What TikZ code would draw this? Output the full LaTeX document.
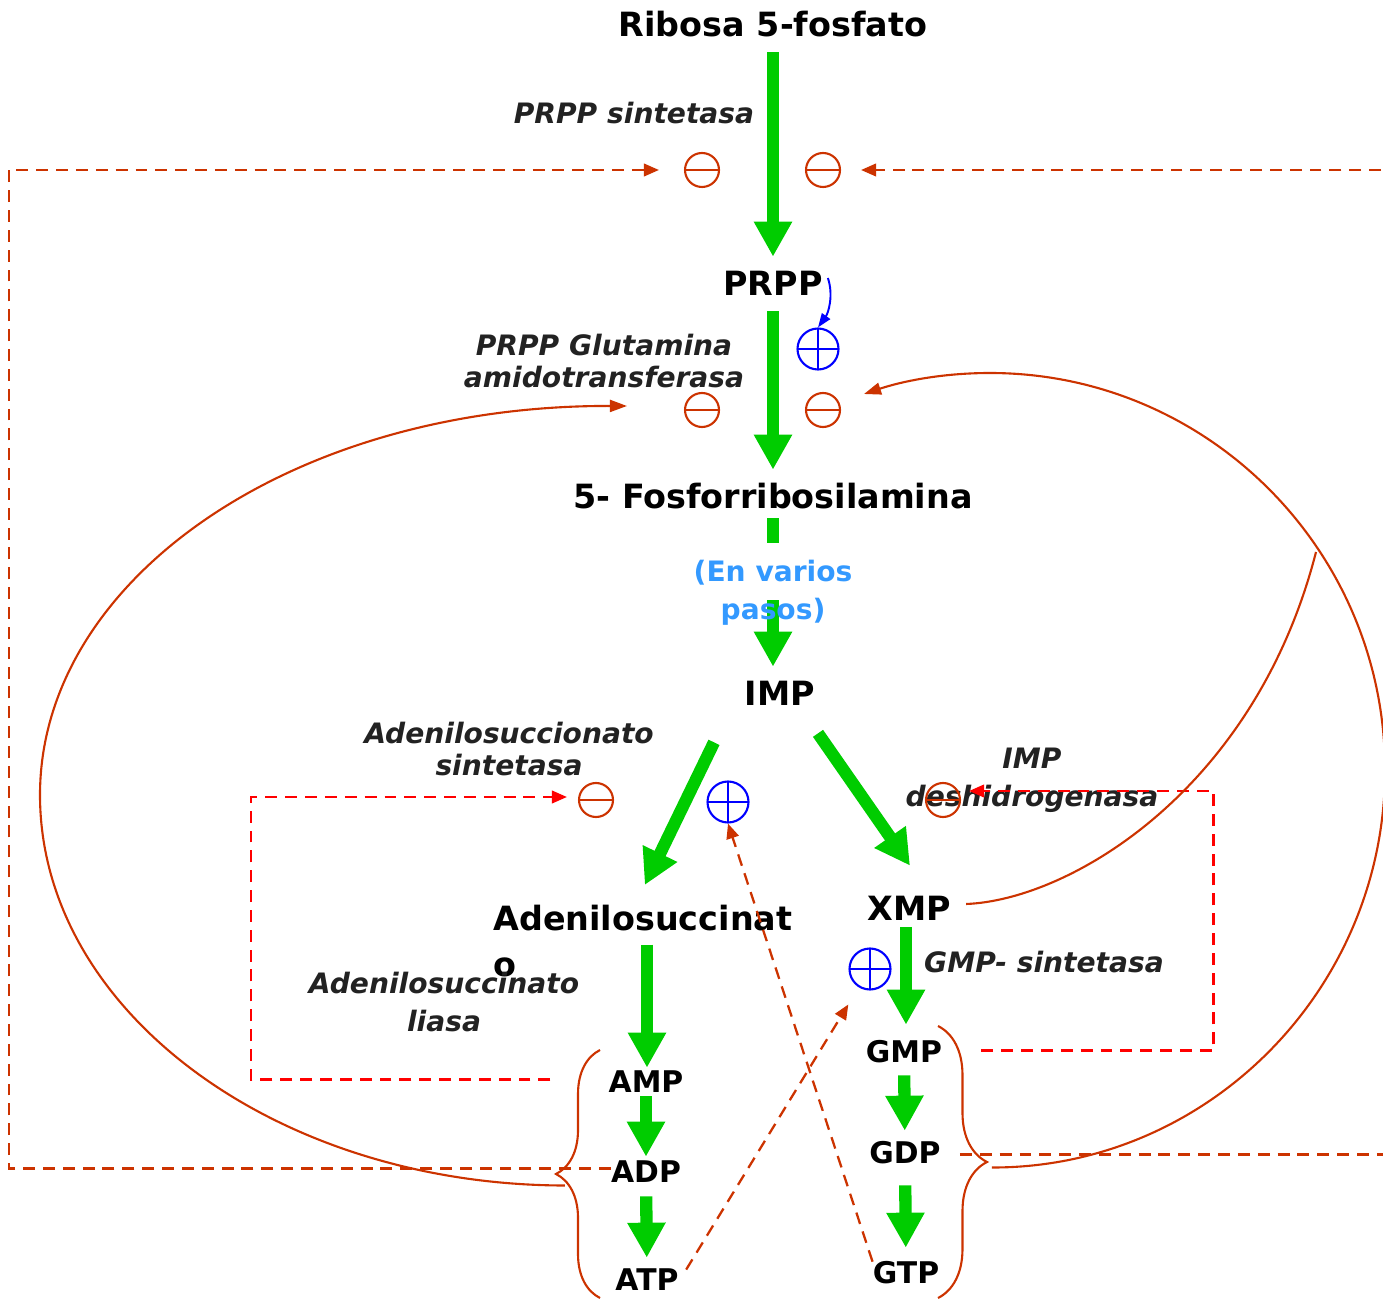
\documentclass[tikz,border=0pt]{standalone}
\usepackage{fontspec}
\setmainfont{DejaVu Sans}
\usetikzlibrary{
    arrows.meta,
    calc,
    decorations.pathreplacing
}

\definecolor{flowgreen}{RGB}{0,204,0}
\definecolor{regorange}{RGB}{204,51,0}
\definecolor{actblue}{RGB}{0,0,255}
\definecolor{stepblue}{RGB}{51,153,255}
\definecolor{enzgray}{RGB}{34,34,34}

\begin{document}
\begin{tikzpicture}[
    x=0.02cm, y=-0.02cm,
    metab/.style={inner sep=0pt, text height=0.5cm, text depth=0.1cm, anchor=base, font=\fontsize{19}{23}\selectfont\bfseries},
    nucl/.style={inner sep=0pt, text height=0.42cm, text depth=0.08cm, anchor=base, font=\fontsize{17}{20}\selectfont\bfseries},
    enzyme/.style={align=center, text=enzgray, inner sep=0pt, font=\fontsize{16}{18.5}\selectfont\bfseries\itshape},
    enzymewide/.style={enzyme, font=\fontsize{16}{21.5}\selectfont\bfseries\itshape},
    inhib/.style={circle, draw=regorange, line width=1.2pt, minimum size=0.68cm, inner sep=0pt,
        path picture={\draw[regorange, line width=1.2pt] (path picture bounding box.west) -- (path picture bounding box.east);}},
    activ/.style={circle, draw=actblue, line width=1.2pt, minimum size=0.82cm, inner sep=0pt,
        path picture={\draw[actblue, line width=1.2pt] (path picture bounding box.west) -- (path picture bounding box.east)
            (path picture bounding box.north) -- (path picture bounding box.south);}},
    flow/.style={-{Triangle[length=0.7cm, width=0.72cm]}, flowgreen, line width=7pt},
    feedback/.style={-{Triangle[length=0.3cm, width=0.25cm]}, regorange, line width=1.3pt, dash pattern=on 6.8pt off 4.5pt},
    feedred/.style={feedback, red},
    regline/.style={regorange, line width=1.2pt},
    regarrow/.style={regline, -{Triangle[length=0.34cm, width=0.24cm]}},
]
\path[use as bounding box, clip] (0,0) rectangle (1383,1300);

% metabolites
\node[metab] (ribosa) at (773,37) {Ribosa 5-fosfato};
\node[metab] (prpp) at (773,296) {PRPP};
\node[metab] (fosfo) at (773,509) {5- Fosforribosilamina};
\node[metab] (imp) at (780,705) {IMP};
\node[inner sep=0pt, anchor=north west, align=left, font=\fontsize{19}{26}\selectfont\bfseries] (adsucc) at (493,905) {Adenilosuccinat\\o};
\node[metab] (xmp) at (909,920) {XMP};
\node[nucl] (amp) at (646,1092) {AMP};
\node[nucl] (adp) at (646,1182) {ADP};
\node[nucl] (atp) at (647,1290) {ATP};
\node[nucl] (gmp) at (904,1062) {GMP};
\node[nucl] (gdp) at (905,1163) {GDP};
\node[nucl] (gtp) at (906,1283) {GTP};

% enzymes
\node[enzyme] (prpps) at (634,113) {PRPP sintetasa};
\node[enzyme] (amidotr) at (604,361) {PRPP Glutamina\\amidotransferasa};
\node[enzyme] (adss) at (509,749) {Adenilosuccionato\\sintetasa};
\node[enzymewide] (impdh) at (1032,780) {IMP\\deshidrogenasa};
\node[enzyme] (gmps) at (1044,962) {GMP- sintetasa};
\node[enzymewide] (adsl) at (444,1002) {Adenilosuccinato\\liasa};

% main pathway
\draw[flow, shorten <=0.2cm, shorten >=0.28cm] (ribosa) -- (prpp);
\draw[flow, shorten <=0.2cm, shorten >=0.28cm] (prpp) -- (fosfo);
\draw[flowgreen, line width=7pt] ($(fosfo.south)+(0,4)$) -- ++(0,25);
\draw[flow] ($(fosfo.south)+(0,86)$) -- ($(fosfo.south |- imp.north)+(0,-13)$);
\draw[flow] ($(imp.south)+(-66,32)$) -- ($(adsucc.north)+(2,-20)$);
\draw[flow] ($(imp.south)+(38,23)$) -- ($(xmp.north)+(1,-29)$);
\draw[flow] ($(amp.north)+(1,-126)$) -- ($(amp.north)+(1,-3)$);
\draw[flow] ($(xmp.south)+(-3,2)$) -- ($(gmp.north)+(2,-16)$);
\draw[flow, shorten >=0.08cm] (amp) -- (adp);
\draw[flow, shorten <=0.2cm, shorten >=0.22cm] (adp) -- (atp);
\draw[flow, shorten <=0.18cm, shorten >=0.22cm] (gmp) -- (gdp);
\draw[flow, shorten <=0.36cm, shorten >=0.28cm] (gdp) -- (gtp);

\node[align=center, inner sep=0pt, text=stepblue, font=\fontsize{16}{21.5}\selectfont\bfseries] (pasos) at (773,593) {(En varios\\pasos)};

% regulation signs
\node[inhib] (iA1) at (702,170) {};
\node[inhib] (iA2) at (823,170) {};
\node[inhib] (iB1) at (702,410) {};
\node[inhib] (iB2) at (823,410) {};
\node[inhib] (iC) at (596,800) {};
\node[inhib] (iD) at (943,800) {};
\node[activ] (aB) at (818,349) {};
\node[activ] (aC) at (728,802) {};
\node[activ] (aD) at (870,969) {};

% braces round the nucleotides
\draw[regline, decorate, decoration={brace, amplitude=0.88cm}] (600,1298) -- (600,1050);
\draw[regline, decorate, decoration={brace, amplitude=0.98cm}] (938,1026) -- (938,1298);

% feedback loops
\draw[feedback, shorten >=0.5cm] ($(adp.west)+(0,-5)$) -- ++(-602,0) |- (iA1.west);
\draw[feedback, shorten <=0.38cm, shorten >=0.4cm] (gdp.east) -- ++(452,0) |- (iA2.east);
\draw[feedred, shorten <=1.16cm, shorten >=0.22cm] ($(amp.west)+(0,-4)$) -- ++(-357,0) |- ($(iC.west)+(0,-3)$);
\draw[feedred, shorten <=0.78cm, shorten >=0.16cm] ($(gmp.east)+(0,-3)$) -- ++(271,0) |- ($(iD.east)+(0,-9)$);
\draw[feedback, shorten <=0.28cm, shorten >=0.4cm] (atp.east) -- (aD);
\draw[feedback] (gtp.north west) -- (aC.south);

\draw[actblue, line width=1.1pt, -{Triangle[length=0.28cm, width=0.2cm]}] ($(prpp.east)+(5,-8)$) .. controls +(6,18) and +(10,-14) .. (aB.north);

\draw[regarrow] ($(adp.west)+(-46,12)$) .. controls (275,1185) and (40,1010) .. (40,795)
    .. controls (40,580) and (291,405) .. ($(iB1.west)+(-57,-4)$);
\draw[regarrow] ($(gdp.east)+(51,13)$) .. controls (1208,1168) and (1385,989) .. (1385,770)
    .. controls (1385,551) and (1208,373) .. (990,373)
    .. controls (940,373) and (900,382) .. ($(iB2.east)+(23,-16)$);
\coordinate (xjoin) at (1316,552);
\draw[regline] ($(xmp.east)+(15,-6)$) .. controls (1070,900) and (1255,790) .. (xjoin);
\end{tikzpicture}
\end{document}
